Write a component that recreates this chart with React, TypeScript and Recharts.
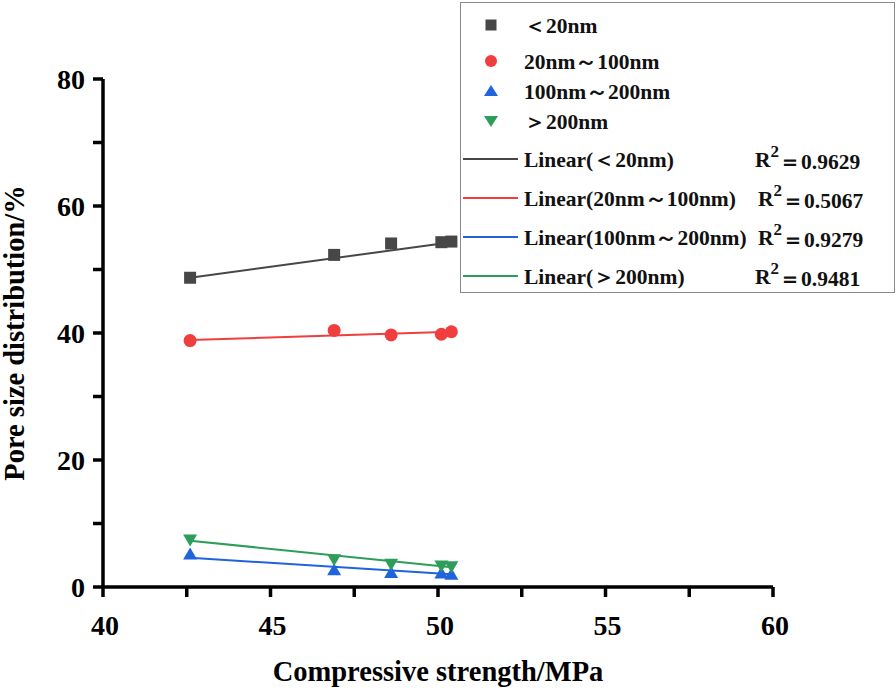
import React from 'react';
import { ComposedChart, Scatter, XAxis, YAxis } from 'recharts';

const strength = [42.6, 46.9, 48.6, 50.1, 50.4];
const below20 = [48.7, 52.3, 54.1, 54.3, 54.4];
const from20to100 = [38.8, 40.4, 39.7, 39.8, 40.2];
const from100to200 = [5.2, 2.7, 2.3, 2.2, 2.0];
const above200 = [7.4, 4.3, 3.6, 3.3, 3.2];

// fitted line end points
const fitX = [42.6, 50.4];
const fitBelow20 = [48.7, 54.3];
const fit20to100 = [38.9, 40.2];
const fit100to200 = [4.6, 2.0];
const fitAbove200 = [7.3, 3.1];

const xTicks = [40, 42.5, 45, 47.5, 50, 52.5, 55, 57.5, 60];
const yTicks = [0, 10, 20, 30, 40, 50, 60, 70, 80];

const C_BLACK = '#474747';
const C_RED = '#f03e3e';
const C_BLUE = '#1f64dc';
const C_GREEN = '#2c9e5a';

const FONT = 'Liberation Serif';

const toPoints = (xs: number[], ys: number[]) => xs.map((x, i) => ({ x, y: ys[i] }));

const Square = (p: any) => <rect x={p.cx - 6} y={p.cy - 6} width={12} height={12} fill={C_BLACK} />;
const Dot = (p: any) => <circle cx={p.cx} cy={p.cy} r={6.5} fill={C_RED} />;
const TriUp = (p: any) => (
  <polygon points={`${p.cx - 7},${p.cy + 5.5} ${p.cx + 7},${p.cy + 5.5} ${p.cx},${p.cy - 6.5}`} fill={C_BLUE} />
);
const TriDown = (p: any) => (
  <polygon points={`${p.cx - 7},${p.cy - 5.5} ${p.cx + 7},${p.cy - 5.5} ${p.cx},${p.cy + 6.5}`} fill={C_GREEN} />
);
const NoMark = () => <g />;

const legendMarkers = [
  { name: '＜20nm', shape: 'square' },
  { name: '20nm～100nm', shape: 'circle' },
  { name: '100nm～200nm', shape: 'up' },
  { name: '＞200nm', shape: 'down' },
];
const legendLines = [
  { name: 'Linear(＜20nm)', color: C_BLACK, r2: '0.9629' },
  { name: 'Linear(20nm～100nm)', color: C_RED, r2: '0.5067' },
  { name: 'Linear(100nm～200nm)', color: C_BLUE, r2: '0.9279' },
  { name: 'Linear(＞200nm)', color: C_GREEN, r2: '0.9481' },
];

const textStyle: React.CSSProperties = { fontFamily: FONT, fontWeight: 700, fontSize: 21.5, fill: '#111' };
const tickText: React.CSSProperties = { fontFamily: FONT, fontWeight: 700, fontSize: 28, fill: '#000' };

const XTick = (p: any) => {
  const v = p.payload.value;
  if (v % 5 !== 0) return <g />;
  return <text x={p.x + 2} y={625} textAnchor="middle" dominantBaseline="central" style={tickText}>{v}</text>;
};
const YTick = (p: any) => {
  const v = p.payload.value;
  if (v % 20 !== 0) return <g />;
  return <text x={85} y={p.y} textAnchor="end" dominantBaseline="central" style={tickText}>{v}</text>;
};

const LegendBox = () => {
  const markerY = [25, 61, 91, 121];
  const lineY = [159, 198, 237, 276];
  const r2X = [755, 758, 758, 755];
  return (
    <svg width={436} height={292} style={{ position: 'absolute', left: 460, top: 2 }}>
      <rect x={0.5} y={0.5} width={434} height={290} fill="#fff" stroke="#8a8a8a" strokeWidth={1} />
      {legendMarkers.map((m, i) => {
        const cx = 31;
        const cy = markerY[i] - 2;
        let mark: React.ReactNode = null;
        if (m.shape === 'square') mark = <rect x={cx - 5.5} y={cy - 5.5} width={11} height={11} fill={C_BLACK} />;
        if (m.shape === 'circle') mark = <circle cx={cx} cy={cy} r={6} fill={C_RED} />;
        if (m.shape === 'up') mark = <polygon points={`${cx - 7},${cy + 5} ${cx + 7},${cy + 5} ${cx},${cy - 6}`} fill={C_BLUE} />;
        if (m.shape === 'down') mark = <polygon points={`${cx - 7},${cy - 5} ${cx + 7},${cy - 5} ${cx},${cy + 6}`} fill={C_GREEN} />;
        return (
          <g key={m.name}>
            {mark}
            <text x={64} y={cy} dy="0.35em" style={textStyle}>{m.name}</text>
          </g>
        );
      })}
      {legendLines.map((l, i) => {
        const cy = lineY[i] - 2;
        return (
          <g key={l.name}>
            <line x1={3} x2={58} y1={cy} y2={cy} stroke={l.color} strokeWidth={2} />
            <text x={64} y={cy} dy="0.35em" style={textStyle}>{l.name}</text>
            <text x={r2X[i] - 460} y={cy} dy="0.35em" style={textStyle}>
              R<tspan dy="-0.55em" style={{ fontSize: 17 }}>2</tspan><tspan dy="0.55em">＝{l.r2}</tspan>
            </text>
          </g>
        );
      })}
    </svg>
  );
};

const YTitle = (props: any) => {
  const vb = props.viewBox || {};
  const cy = vb.y + vb.height / 2;
  return (
    <text x={24} y={cy} transform={`rotate(-90, 24, ${cy})`} textAnchor="middle"
      style={{ fontFamily: FONT, fontWeight: 700, fontSize: 28.5, fill: '#000' }}>
      Pore size distribution/%
    </text>
  );
};

export default function App() {
  const axisLine = { stroke: '#000', strokeWidth: 3.5 };
  return (
    <div style={{ position: 'absolute', left: 0, top: 0, width: 896, height: 690, background: '#fff', fontFamily: FONT }}>
      <ComposedChart width={896} height={690} margin={{ top: 79, right: 123, bottom: 0, left: 0 }}>
        <XAxis type="number" dataKey="x" domain={[40, 60]} ticks={xTicks} interval={0}
          axisLine={axisLine} tickLine={axisLine} tickSize={10} height={103} tick={<XTick />}
          label={{ value: 'Compressive strength/MPa', position: 'insideBottom', offset: 9, style: { fontFamily: FONT, fontWeight: 700, fontSize: 28.5, fill: '#000' } }} />
        <YAxis type="number" dataKey="y" domain={[0, 80]} ticks={yTicks} interval={0}
          axisLine={axisLine} tickLine={axisLine} tickSize={10} width={103} tick={<YTick />}
          label={<YTitle />} />
        <Scatter data={toPoints(fitX, fitBelow20)} line={{ stroke: C_BLACK, strokeWidth: 2 }} shape={NoMark} isAnimationActive={false} />
        <Scatter data={toPoints(fitX, fit20to100)} line={{ stroke: C_RED, strokeWidth: 2 }} shape={NoMark} isAnimationActive={false} />
        <Scatter data={toPoints(fitX, fit100to200)} line={{ stroke: C_BLUE, strokeWidth: 2 }} shape={NoMark} isAnimationActive={false} />
        <Scatter data={toPoints(fitX, fitAbove200)} line={{ stroke: C_GREEN, strokeWidth: 2 }} shape={NoMark} isAnimationActive={false} />
        <Scatter data={toPoints(strength, below20)} shape={Square} isAnimationActive={false} />
        <Scatter data={toPoints(strength, from20to100)} shape={Dot} isAnimationActive={false} />
        <Scatter data={toPoints(strength, from100to200)} shape={TriUp} isAnimationActive={false} />
        <Scatter data={toPoints(strength, above200)} shape={TriDown} isAnimationActive={false} />
      </ComposedChart>
      <LegendBox />
    </div>
  );
}
